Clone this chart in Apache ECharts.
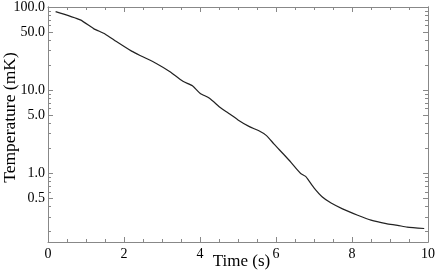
<!DOCTYPE html>
<html><head><meta charset="utf-8">
<script src="https://cdn.jsdelivr.net/npm/echarts@6/dist/echarts.min.js"></script>
<style>html,body{margin:0;padding:0;background:#fff}#c{width:436px;height:275px}</style>
</head><body><div id="c"></div>
<script>
const timeS = [0.2,0.85,1.2,1.5,1.8,2.2,2.45,2.85,3.2,3.55,3.8,4.0,4.25,4.55,4.75,5.0,5.3,5.55,5.75,5.95,6.2,6.4,6.55,6.65,6.78,7.0,7.22,7.45,7.75,8.15,8.5,8.9,9.2,9.45,9.9];
const tempMK = [88,70,55,47.5,38.5,29.5,25.8,21,16.8,12.8,11.3,9.2,8.0,6.1,5.3,4.4,3.65,3.25,2.85,2.25,1.7,1.35,1.12,1.0,0.92,0.67,0.52,0.44,0.375,0.315,0.275,0.25,0.238,0.226,0.218];
const yMajorTicks = [0.5,1,5,10,50,100];
const yMinorTicks = [0.2,0.3,0.4,0.6,0.7,0.8,0.9,2,3,4,6,7,8,9,20,30,40,60,70,80,90];
const xTickLabels = [0,2,4,6,8,10];

const font = 'Liberation Serif';
const axisColor = '#888';
const chart = echarts.init(document.getElementById('c'), null, {renderer:'canvas'});
const baseX = {
  type:'value', min:0, max:10, interval:2,
  axisLine:{show:true, lineStyle:{color:axisColor, width:1}},
  axisTick:{show:true, inside:true, length:5, lineStyle:{color:axisColor}},
  minorTick:{show:true, splitNumber:4, length:3, lineStyle:{color:axisColor}},
  splitLine:{show:false}, minorSplitLine:{show:false}
};
const baseY = (pos, vals, len, labels) => ({
  type:'log', min:0.15, max:100, position:pos,
  axisLine:{show:true, onZero:false, lineStyle:{color:axisColor, width:1}},
  axisTick:{show:true, inside:true, length:len, customValues:vals, lineStyle:{color:axisColor}},
  axisLabel:labels ? {show:true, customValues:vals, fontFamily:font, fontSize:14, color:'#000', margin:3,
      formatter:(v)=>Number(v).toFixed(1)} : {show:false},
  splitLine:{show:false}, minorTick:{show:false}
});
chart.setOption({
  animation:false,
  grid:{left:48, right:8, top:7, bottom:33, containLabel:false, outerBoundsMode:'none'},
  xAxis:[
    Object.assign({}, baseX, {position:'bottom',
      axisLabel:{show:true, fontFamily:font, fontSize:14, color:'#000', margin:5, customValues:xTickLabels},
      name:'Time (s)', nameLocation:'middle', nameGap:11, nameMoveOverlap:false,
      nameTextStyle:{fontFamily:font, fontSize:17, color:'#000', padding:[0,0,0,7]}}),
    Object.assign({}, baseX, {position:'top', axisLabel:{show:false}})
  ],
  yAxis:[
    Object.assign(baseY('left', yMajorTicks, 5, true), {
      name:'Temperature (mK)', nameLocation:'middle', nameGap:29, nameMoveOverlap:false,
      nameTextStyle:{fontFamily:font, fontSize:17.5, color:'#000', padding:[0,0,0,14]}}),
    baseY('left', yMinorTicks, 3, false),
    baseY('right', yMajorTicks, 5, false),
    baseY('right', yMinorTicks, 3, false)
  ],
  series:[{
    type:'line', xAxisIndex:0, yAxisIndex:0, showSymbol:false, smooth:0.2,
    lineStyle:{color:'#222', width:1.2},
    data: timeS.map((t,i)=>[t, tempMK[i]])
  }]
});
</script></body></html>
